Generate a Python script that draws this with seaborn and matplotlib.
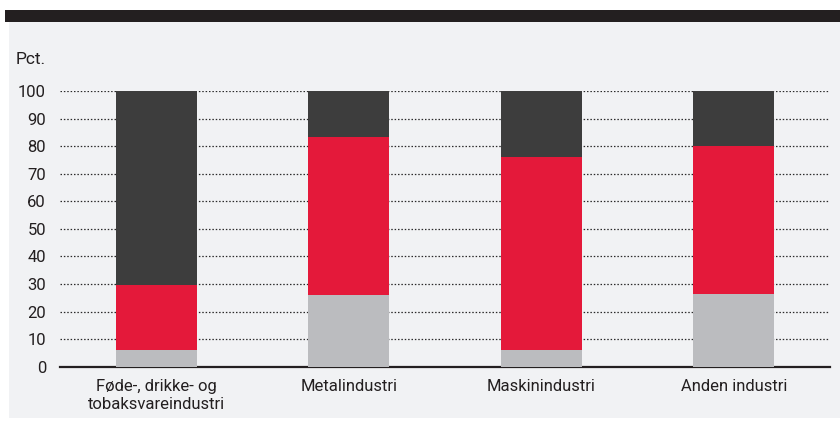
import matplotlib
matplotlib.use("Agg")
import matplotlib.pyplot as plt
import matplotlib.font_manager as fm
from matplotlib.patches import Rectangle
import seaborn as sns
import pandas as pd
import numpy as np

categories = ["Føde-, drikke- og\ntobaksvareindustri", "Metalindustri", "Maskinindustri", "Anden industri"]
gray_vals = [6, 26, 6, 26.5]
red_vals = [23.7, 57.3, 70, 53.5]
dark_vals = [70.3, 16.7, 24, 20]
yticks = [0, 10, 20, 30, 40, 50, 60, 70, 80, 90, 100]

sns.set_theme(style="white")
names = {f.name for f in fm.fontManager.ttflist}
fam = [f for f in ["Liberation Sans Narrow", "Roboto", "DejaVu Sans"] if f in names]
plt.rcParams["font.family"] = fam

BG = "#f1f2f4"
GRAY = "#bbbcbf"
RED = "#e4193a"
DARK = "#3d3d3d"

W, H = 840, 421
fig = plt.figure(figsize=(W / 100, H / 100), dpi=100)
fig.patch.set_facecolor("white")
fig.patches.append(Rectangle((9 / W, 1 - 418 / H), 1 - 9 / W, (418 - 21) / H,
                             transform=fig.transFigure, facecolor=BG, edgecolor="none", zorder=-2))
fig.patches.append(Rectangle((5 / W, 1 - 21.5 / H), 1 - 5 / W, 11.5 / H,
                             transform=fig.transFigure, facecolor="#231f20", edgecolor="none", zorder=-1))

ax = fig.add_axes([60 / W, 54.3 / H, (830 - 60) / W, (366.7 - 91) / H])
ax.set_facecolor("none")
ax.set_zorder(1)

g = np.array(gray_vals)
r = np.array(red_vals)
d = np.array(dark_vals)
df = pd.DataFrame({"cat": categories, "total": g + r + d, "gr": g + r, "g": g})

for col, color in [("total", DARK), ("gr", RED), ("g", GRAY)]:
    sns.barplot(data=df, x="cat", y=col, color=color, width=0.42, ax=ax,
                saturation=1, linewidth=0, zorder=3, order=categories)

ax.set_xlim(-0.5, 3.5)
ax.set_ylim(0, 100)
ax.set_yticks(yticks)
ax.set_yticklabels([str(v) for v in yticks])
ax.yaxis.grid(True, linestyle=(0, (1.2, 1.5)), color="#2a2a2a", linewidth=0.9)
ax.set_axisbelow(True)
for s in ["top", "right", "left"]:
    ax.spines[s].set_visible(False)
ax.spines["bottom"].set_color("#231f20")
ax.spines["bottom"].set_linewidth(1.6)
ax.spines["bottom"].set_zorder(2)
ax.tick_params(axis="both", length=0, labelsize=12, colors="#231f20")
ax.tick_params(axis="y", pad=10)
ax.tick_params(axis="x", pad=9)
ax.set_xlabel("")
ax.set_ylabel("")
for t in ax.get_xticklabels():
    t.set_linespacing(1.25)

fig.text(16 / W, 1 - 64 / H, "Pct.", fontsize=12.5, color="#231f20", ha="left", va="baseline")

fig.savefig("out.png", dpi=100, facecolor="white")
